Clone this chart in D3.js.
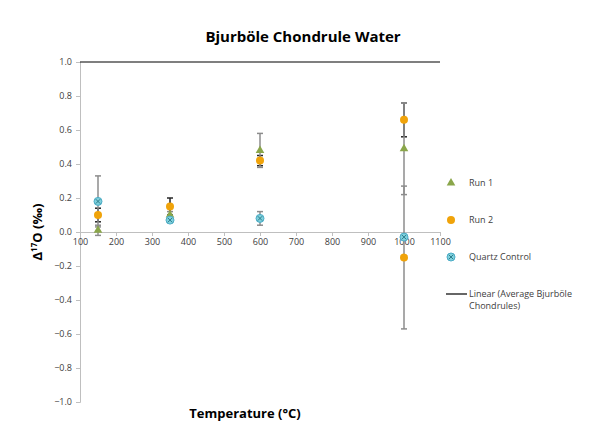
<!doctype html>
<meta charset="utf-8">
<title>Bjurböle Chondrule Water</title>
<script src="https://cdn.jsdelivr.net/npm/d3@7"></script>
<style>
  body { margin: 0; background: #fff; }
  text { font-family: "Open Sans", sans-serif; }
</style>
<body>
<svg id="chart" width="589" height="434"></svg>
<script>

// data
var xTicks = [100, 200, 300, 400, 500, 600, 700, 800, 900, 1000, 1100];
var yTicks = [-1.0, -0.8, -0.6, -0.4, -0.2, 0.0, 0.2, 0.4, 0.6, 0.8, 1.0];

var run1Temp = [150, 350, 600, 1000];
var run1Val  = [0.01, 0.10, 0.48, 0.49];
var run1Err  = [0.03, 0.02, 0.10, 0.27];

var run2Temp = [150, 350, 600, 1000, 1000];
var run2Val  = [0.10, 0.15, 0.42, 0.66, -0.15];
var run2Err  = [0.04, 0.05, 0.03, 0.10, 0.42];

var quartzTemp = [150, 350, 600, 1000];
var quartzVal  = [0.18, 0.07, 0.08, -0.03];
var quartzErr  = [0.15, 0.01, 0.04, 0.01];

var trendY = 1.0;   // Linear (Average Bjurböle Chondrules)

var svg = d3.select("#chart");

var x = d3.scaleLinear().domain([100, 1100]).range([80, 440]);
var y = d3.scaleLinear().domain([-1, 1]).range([402, 62]);

// title
svg.append("text")
  .attr("x", 303).attr("y", 42)
  .attr("text-anchor", "middle")
  .style("font-size", "15px").style("font-weight", "bold")
  .text("Bjurböle Chondrule Water");

// y axis
var yAxis = svg.append("g")
  .attr("transform", "translate(" + x(100) + ",0)")
  .call(d3.axisLeft(y).tickValues(yTicks).tickSize(4).tickFormat(d3.format(".1f")));
yAxis.select(".domain").attr("stroke", "#bfbfbf");
yAxis.selectAll(".tick line").attr("stroke", "#bfbfbf");
yAxis.selectAll(".tick text").attr("fill", "#404040")
  .style("font-size", "9px").attr("x", -8);

// x axis at y = 0
var xAxis = svg.append("g")
  .attr("transform", "translate(0," + y(0) + ")")
  .call(d3.axisBottom(x).tickValues(xTicks).tickSize(4).tickFormat(d3.format("d")));
xAxis.select(".domain").attr("stroke", "#bfbfbf");
xAxis.selectAll(".tick line").attr("stroke", "#bfbfbf");
xAxis.selectAll(".tick text").attr("fill", "#404040")
  .style("font-size", "9px").attr("y", 7);

// trend line
svg.append("line")
  .attr("x1", x(100)).attr("x2", x(1100))
  .attr("y1", y(trendY)).attr("y2", y(trendY))
  .attr("stroke", "#000").attr("stroke-width", 1.2);

// axis titles
svg.append("text")
  .attr("transform", "translate(42," + y(0) + ") rotate(-90)")
  .attr("text-anchor", "middle")
  .style("font-size", "13px").style("font-weight", "bold")
  .html("Δ<tspan dy='-5' style='font-size:8px'>17</tspan><tspan dy='5'>O (‰)</tspan>");

svg.append("text")
  .attr("x", 245).attr("y", 418)
  .attr("text-anchor", "middle")
  .style("font-size", "13px").style("font-weight", "bold")
  .text("Temperature (°C)");

function errorBars(temps, vals, errs, color) {
  var g = svg.append("g").attr("stroke-width", 1.5);
  temps.forEach(function(t, i) {
    var c = (typeof color === "function") ? color(i) : color;
    var cx = x(t), top = y(vals[i] + errs[i]), bot = y(vals[i] - errs[i]);
    g.append("line").attr("stroke", c).attr("x1", cx).attr("x2", cx).attr("y1", top).attr("y2", bot);
    g.append("line").attr("stroke", c).attr("x1", cx - 3).attr("x2", cx + 3).attr("y1", top).attr("y2", top);
    g.append("line").attr("stroke", c).attr("x1", cx - 3).attr("x2", cx + 3).attr("y1", bot).attr("y2", bot);
  });
}

errorBars(run2Temp, run2Val, run2Err, function(i) { return i === 4 ? "#8c8c8c" : "#262626"; });
errorBars(quartzTemp, quartzVal, quartzErr, "#8c8c8c");
errorBars(run1Temp, run1Val, run1Err, "#8c8c8c");

var triangle = d3.symbol().type(d3.symbolTriangle).size(32);

function drawQuartz(cx, cy) {
  svg.append("circle").attr("cx", cx).attr("cy", cy).attr("r", 4)
    .attr("fill", "#7fd0dc").attr("stroke", "#4bacc6").attr("stroke-width", 1);
  svg.append("path")
    .attr("d", "M" + (cx - 2.2) + "," + (cy - 2.2) + "L" + (cx + 2.2) + "," + (cy + 2.2) +
               "M" + (cx - 2.2) + "," + (cy + 2.2) + "L" + (cx + 2.2) + "," + (cy - 2.2))
    .attr("stroke", "#2c7d8c").attr("stroke-width", 1);
}

run1Temp.forEach(function(t, i) {
  svg.append("path").attr("d", triangle)
    .attr("transform", "translate(" + x(t) + "," + y(run1Val[i]) + ")")
    .attr("fill", "#8aa64a");
});
run2Temp.forEach(function(t, i) {
  svg.append("circle").attr("cx", x(t)).attr("cy", y(run2Val[i])).attr("r", 4)
    .attr("fill", "#f0a30a");
});
quartzTemp.forEach(function(t, i) { drawQuartz(x(t), y(quartzVal[i])); });

// legend
svg.append("path").attr("d", triangle)
  .attr("transform", "translate(451,183)").attr("fill", "#8aa64a");
svg.append("circle").attr("cx", 451).attr("cy", 220).attr("r", 4).attr("fill", "#f0a30a");
drawQuartz(451, 257);
svg.append("line").attr("x1", 446).attr("x2", 467).attr("y1", 294).attr("y2", 294)
  .attr("stroke", "#000").attr("stroke-width", 1.2);

var legendText = [["Run 1", 186], ["Run 2", 223], ["Quartz Control", 260],
                  ["Linear (Average Bjurböle", 297], ["Chondrules)", 309]];
legendText.forEach(function(d) {
  svg.append("text").attr("x", 469).attr("y", d[1])
    .attr("fill", "#404040").style("font-size", "9px").text(d[0]);
});

</script>
</body>
